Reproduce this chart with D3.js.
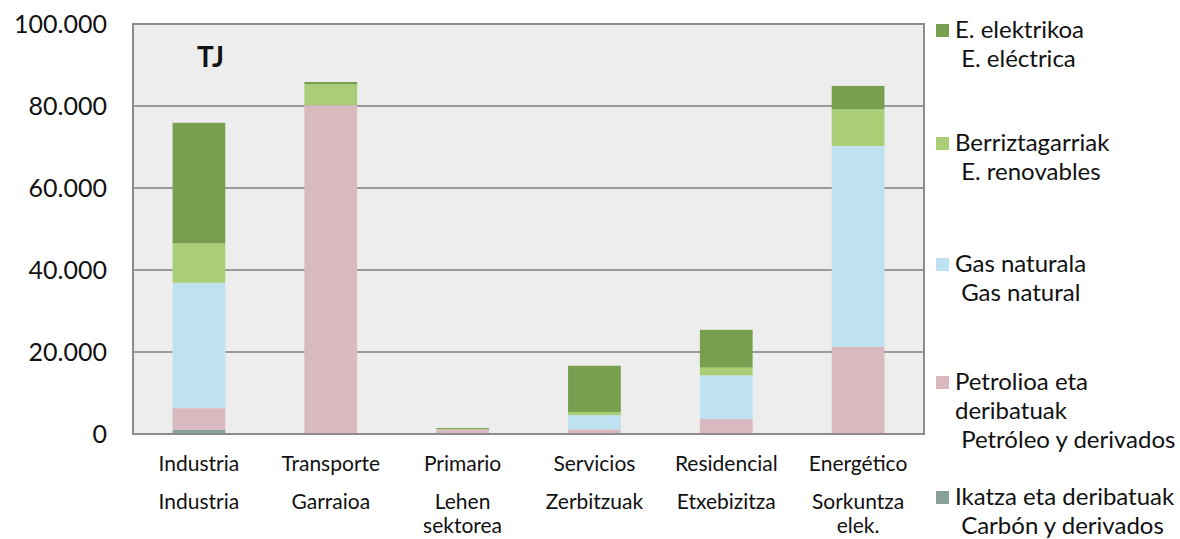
<!DOCTYPE html>
<html lang="es">

<head>
    <meta charset="UTF-8">
    <title>Energía final por sector (TJ)</title>
    <style>
        html,
        body {
            padding: 0;
            margin: 0;
            background: #fff;
            overflow: hidden;
        }

        text {
            font-family: Lato, 'Open Sans', sans-serif;
            fill: #111;
        }
    </style>
</head>

<body>

    <script src="https://cdn.jsdelivr.net/npm/d3@7"></script>
    <script>

        // categorias (castellano arriba, euskera debajo)
        const categories = ['Industria', 'Transporte', 'Primario', 'Servicios', 'Residencial', 'Energético']
        const categoriesEu = [['Industria'], ['Garraioa'], ['Lehen', 'sektorea'], ['Zerbitzuak'], ['Etxebizitza'], ['Sorkuntza', 'elek.']]

        // TJ por fuente, de abajo arriba
        const carbon = [1000, 0, 0, 0, 0, 0]
        const petroleo = [5300, 80200, 1100, 1100, 3650, 21300]
        const gasNatural = [30600, 0, 0, 3500, 10650, 48950]
        const renovables = [9600, 5100, 100, 750, 1900, 8950]
        const electrica = [29400, 550, 250, 11300, 9200, 5700]

        const yTicks = [0, 20000, 40000, 60000, 80000, 100000]

        const series = [
            { key: 'carbon', values: carbon, color: '#87A09A', label: ['Ikatza eta deribatuak', ' Carbón y derivados'] },
            { key: 'petroleo', values: petroleo, color: '#D9B8BF', label: ['Petrolioa eta', 'deribatuak', ' Petróleo y derivados'] },
            { key: 'gas', values: gasNatural, color: '#BEE2F1', label: ['Gas naturala', ' Gas natural'] },
            { key: 'renovables', values: renovables, color: '#A9CE76', label: ['Berriztagarriak', ' E. renovables'] },
            { key: 'electrica', values: electrica, color: '#789F4D', label: ['E. elektrikoa', ' E. eléctrica'] }
        ]

        const width = 1180
        const height = 539

        const margin = { top: 24, left: 133, right: 256, bottom: 105 }
        const w = width - margin.left - margin.right
        const h = height - margin.top - margin.bottom

        const svg = d3.select('body')
            .append('svg')
            .attr('width', width)
            .attr('height', height)

        const table = categories.map((c, i) => {
            const row = { cat: c }
            series.forEach(s => { row[s.key] = s.values[i] })
            return row
        })

        const stacked = d3.stack().keys(series.map(s => s.key))(table)

        const x = d3.scaleBand()
            .domain(categories)
            .range([0, w])
            .paddingInner(0.6)
            .paddingOuter(0.3)

        const y = d3.scaleLinear()
            .domain([0, 100000])
            .range([h, 0])

        const g = svg.append('g')
            .attr('transform', `translate(${margin.left}, ${margin.top})`)

        // fondo
        g.append('rect')
            .attr('x', 0).attr('y', 0)
            .attr('width', w).attr('height', h)
            .attr('fill', '#EDEDED')

        // rejilla
        g.selectAll('.grid')
            .data(yTicks.slice(1, -1))
            .enter()
            .append('line')
            .attr('class', 'grid')
            .attr('x1', 0).attr('x2', w)
            .attr('y1', d => y(d)).attr('y2', d => y(d))
            .attr('stroke', '#9A9A9A')
            .attr('stroke-width', 2)

        // barras
        const color = d3.scaleOrdinal()
            .domain(series.map(s => s.key))
            .range(series.map(s => s.color))

        g.selectAll('.layer')
            .data(stacked)
            .enter()
            .append('g')
            .attr('class', 'layer')
            .attr('fill', d => color(d.key))
            .selectAll('rect')
            .data(d => d)
            .enter()
            .append('rect')
            .attr('x', d => x(d.data.cat))
            .attr('width', x.bandwidth())
            .attr('y', d => y(d[1]))
            .attr('height', d => y(d[0]) - y(d[1]))

        // marco
        g.append('rect')
            .attr('x', 0).attr('y', 0)
            .attr('width', w).attr('height', h)
            .attr('fill', 'none')
            .attr('stroke', '#8C8C8C')
            .attr('stroke-width', 2)

        // eje y
        const yAxis = g.append('g')
            .call(d3.axisLeft(y)
                .tickValues(yTicks)
                .tickSize(0)
                .tickPadding(26)
                .tickFormat(d => d3.format(',')(d).replace(/,/g, '.')))
        yAxis.select('.domain').remove()
        yAxis.selectAll('text')
            .style('font-family', 'Lato, sans-serif')
            .style('font-size', '25px')
            .attr('fill', '#111')

        // eje x, dos filas de etiquetas
        const xl = g.append('g')
            .attr('transform', `translate(0, ${h})`)

        xl.selectAll('.cat-es')
            .data(categories)
            .enter()
            .append('text')
            .attr('class', 'cat-es')
            .attr('x', d => x(d) + x.bandwidth() / 2)
            .attr('y', 37)
            .attr('text-anchor', 'middle')
            .style('font-size', '21px')
            .text(d => d)

        // la segunda linea va en su propio texto para que no se solapen
        categoriesEu.forEach((lines, i) => {
            xl.selectAll(null)
                .data(lines)
                .enter()
                .append('text')
                .attr('class', 'cat-eu')
                .attr('x', x(categories[i]) + x.bandwidth() / 2)
                .attr('y', (d, j) => 75 + j * 24)
                .attr('text-anchor', 'middle')
                .style('font-size', '21px')
                .text(d => d)
        })

        // unidad
        g.append('text')
            .attr('x', 64)
            .attr('y', 43)
            .style('font-size', '28px')
            .style('font-weight', 'bold')
            .text('TJ')

        // leyenda (de arriba abajo: eléctrica ... carbón)
        const legendY = [38, 151, 272, 390, 505]
        const legend = svg.append('g')
            .attr('transform', 'translate(936, 0)')

        const items = legend.selectAll('.item')
            .data(series.slice().reverse())
            .enter()
            .append('g')
            .attr('class', 'item')
            .attr('transform', (d, i) => `translate(0, ${legendY[i]})`)

        items.append('rect')
            .attr('x', 0).attr('y', -14)
            .attr('width', 13).attr('height', 13)
            .attr('fill', d => d.color)

        items.append('text')
            .attr('x', 19)
            .attr('y', 0)
            .style('font-size', '24px')
            .style('white-space', 'pre')
            .selectAll('tspan')
            .data(d => d.label)
            .enter()
            .append('tspan')
            .attr('x', 19)
            .attr('dy', (d, i) => i === 0 ? 0 : 29)
            .text(d => d)

    </script>
</body>

</html>
